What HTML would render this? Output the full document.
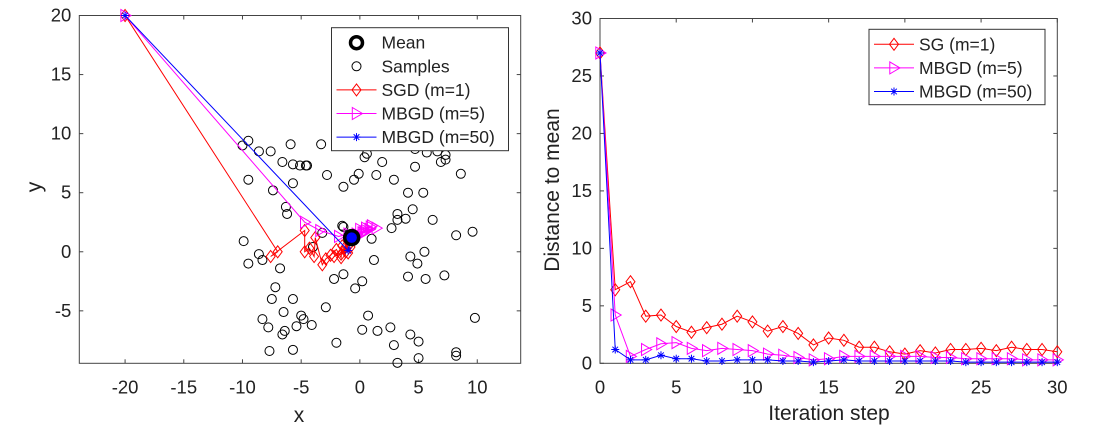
<!DOCTYPE html>
<html><head><meta charset="utf-8"><style>
body{margin:0;background:#fff;width:1096px;height:437px;overflow:hidden}
svg{font-family:"Liberation Sans",sans-serif}
</style></head><body>
<svg id="fig" width="1096" height="437" xmlns="http://www.w3.org/2000/svg"></svg>
<script>
// ---------- Left chart data ----------
const samplesX=[-10.0,-9.5,-8.6,-7.6,-5.9,-3.3,-6.6,-5.7,-5.1,-4.6,-4.5,-2.8,-9.5,-5.7,-7.4,-6.3,-6.2,-1.4,-0.1,-0.5,0.4,0.6,1.4,1.9,2.9,4.7,5.7,6.6,7.3,7.3,6.9,4.7,8.6,4.1,5.4,3.2,3.2,3.9,4.5,6.2,2.7,8.2,9.6,1.0,-1.5,-1.4,-3.2,-9.9,-8.6,-8.3,-9.5,-6.8,-4.0,1.2,4.3,5.5,4.9,-1.4,-2.2,0.2,-0.4,4.1,5.6,7.2,-7.2,-7.5,-5.7,-2.9,-6.5,-5.0,-4.8,-4.1,-8.3,-7.8,-5.4,-6.4,-6.6,0.7,0.2,1.5,2.6,4.3,5.0,2.9,-2.0,-7.7,-5.7,3.2,5.0,8.2,8.2,9.8];
const samplesY=[9.0,9.4,8.5,8.5,9.1,9.1,7.6,7.4,7.3,7.3,7.3,6.5,6.1,5.8,5.2,3.8,3.2,5.5,6.6,6.1,8.0,8.3,6.5,7.6,6.1,8.7,8.4,8.5,8.2,7.8,7.6,7.2,6.6,5.0,5.0,3.2,2.7,2.8,3.6,2.7,2.0,1.4,1.7,1.1,2.2,2.1,1.6,0.9,-0.2,-0.7,-1.0,-1.4,0.4,-0.7,-0.4,0.0,-1.0,-1.9,-2.3,-2.5,-3.1,-2.1,-2.3,-2.0,-3.0,-4.0,-4.0,-4.7,-5.1,-5.4,-5.7,-6.2,-5.7,-6.4,-6.3,-6.7,-7.0,-5.4,-6.6,-6.7,-6.4,-7.0,-7.6,-7.9,-7.7,-8.4,-8.3,-9.4,-9.0,-8.5,-8.8,-5.6];
const meanX=-0.7, meanY=1.2;
const sgdX=[-20,-7.0,-7.6,-4.7,-4.7,-4.3,-3.9,-3.8,-3.2,-2.9,-2.5,-2.0,-1.6,-1.5,-1.0,-1.3,-0.9,-1.6,-2.2,-1.2,-0.8];
const sgdY=[20,0.0,-0.4,1.8,0.0,0.3,-0.4,1.2,-1.1,-0.6,-0.3,0.2,-0.5,0.5,-0.1,0.3,0.6,-0.2,-0.4,0.0,0.4];
const mb5X=[-20,-4.7,-3.4,-1.8,-1.0,0.0,0.5,1.0,0.3,1.4,0.5,-0.2,0.8,-0.5,0.2,0.9,-0.3,0.4];
const mb5Y=[20,2.5,1.8,1.3,1.5,1.9,2.0,2.2,1.6,2.0,1.8,1.4,1.9,1.3,1.6,2.1,1.5,1.7];
const mb50X=[-20,-1.0,-0.7,-0.6,-0.8,-0.6,-0.7];
const mb50Y=[20,0.1,1.2,1.3,1.1,1.2,1.3];
const leftXTicks=[-20,-15,-10,-5,0,5,10];
const leftYTicks=[-5,0,5,10,15,20];
// ---------- Right chart data ----------
const steps=[0,1,2,3,4,5,6,7,8,9,10,11,12,13,14,15,16,17,18,19,20,21,22,23,24,25,26,27,28,29,30];
const distSG=[27,6.4,7.1,4.1,4.2,3.2,2.7,3.1,3.4,4.1,3.6,2.8,3.2,2.6,1.6,2.2,2.0,1.4,1.4,1.0,0.8,1.1,0.9,1.2,1.2,1.3,1.1,1.4,1.2,1.2,1.0];
const distMB5=[27,4.2,0.6,1.2,1.7,1.8,1.3,1.1,1.3,1.2,1.1,0.8,0.7,0.5,0.3,0.4,0.6,0.6,0.6,0.6,0.6,0.6,0.5,0.5,0.4,0.4,0.4,0.4,0.3,0.3,0.3];
const distMB50=[27,1.2,0.3,0.3,0.7,0.4,0.4,0.2,0.2,0.3,0.3,0.3,0.2,0.2,0.1,0.2,0.3,0.2,0.2,0.2,0.2,0.2,0.2,0.2,0.1,0.1,0.1,0.1,0.1,0.1,0.1];
const rightXTicks=[0,5,10,15,20,25,30];
const rightYTicks=[0,5,10,15,20,25,30];

const NS='http://www.w3.org/2000/svg';
const svg=document.getElementById('fig');
function mk(tag,attrs,parent){const e=document.createElementNS(NS,tag);for(const k in attrs)e.setAttribute(k,attrs[k]);(parent||svg).appendChild(e);return e;}

const L={x0:79.3,x1:520.7,y0:15.5,y1:363.3,xmin:-23.9,xmax:13.7,ymin:-9.44,ymax:20};
const R={x0:600,x1:1057.3,y0:18.5,y1:363.3,xmin:0,xmax:30,ymin:0,ymax:30};
function sx(A,v){return A.x0+(v-A.xmin)/(A.xmax-A.xmin)*(A.x1-A.x0);}
function sy(A,v){return A.y1-(v-A.ymin)/(A.ymax-A.ymin)*(A.y1-A.y0);}

function axes(A,xt,yt,name){
  const g=mk('g',{});
  
  
  const fr=mk('rect',{x:A.x0,y:A.y0,width:A.x1-A.x0,height:A.y1-A.y0,fill:'none',stroke:'#444','stroke-width':1},g);
  
  
  xt.forEach(t=>{const x=sx(A,t);
    mk('line',{x1:x,x2:x,y1:A.y1,y2:A.y1-4,stroke:'#444'},g);
    mk('line',{x1:x,x2:x,y1:A.y0,y2:A.y0+4,stroke:'#444'},g);
    const tx=mk('text',{x:x,y:A.y1+30,'text-anchor':'middle','font-size':18.5,fill:'#222'},g);tx.textContent=t;
    
    
  });
  yt.forEach(t=>{const y=sy(A,t);
    mk('line',{x1:A.x0,x2:A.x0+4,y1:y,y2:y,stroke:'#444'},g);
    mk('line',{x1:A.x1,x2:A.x1-4,y1:y,y2:y,stroke:'#444'},g);
    const tx=mk('text',{x:A.x0-8,y:y+6,'text-anchor':'end','font-size':18.5,fill:'#222'},g);tx.textContent=t;
    
    
  });
}
function diamond(g,x,y,c,s){mk('path',{d:`M${x} ${y-s}L${x+s*0.75} ${y}L${x} ${y+s}L${x-s*0.75} ${y}Z`,fill:'none',stroke:c,'stroke-width':1},g);}
function tri(g,x,y,c,s){mk('path',{d:`M${x+s} ${y}L${x-s*0.7} ${y-s}L${x-s*0.7} ${y+s}Z`,fill:'none',stroke:c,'stroke-width':1},g);}
function star(g,x,y,c,s){for(let a=0;a<4;a++){const t=a*Math.PI/4;mk('line',{x1:x-s*Math.cos(t),y1:y-s*Math.sin(t),x2:x+s*Math.cos(t),y2:y+s*Math.sin(t),stroke:c,'stroke-width':1},g);}}
function series(A,xs,ys,c,marker,ms,name){
  const g=mk('g',{});
  
  
  const pts=xs.map((v,i)=>sx(A,v)+','+sy(A,ys[i])).join(' ');
  mk('polyline',{points:pts,fill:'none',stroke:c,'stroke-width':1},g);
  xs.forEach((v,i)=>marker(g,sx(A,v),sy(A,ys[i]),c,ms));
}

axes(L,leftXTicks,leftYTicks,'left');
const sg=mk('g',{});


samplesX.forEach((v,i)=>{mk('circle',{cx:sx(L,v),cy:sy(L,samplesY[i]),r:4.5,fill:'none',stroke:'#000','stroke-width':1},sg);});
series(L,sgdX,sgdY,'#f00',diamond,6,'sgd-path');
series(L,mb5X,mb5Y,'#f0f',tri,6,'mbgd5-path');
series(L,mb50X,mb50Y,'#00f',star,4,'mbgd50-path');
const mc=mk('circle',{cx:sx(L,meanX),cy:sy(L,meanY),r:7,fill:'#00f',stroke:'#000','stroke-width':3.5});



function label(x,y,txt,name,rot){const t=mk('text',{x:x,y:y,'text-anchor':'middle','font-size':21,fill:'#222'});if(rot)t.setAttribute('transform',`rotate(-90 ${x} ${y})`);t.textContent=txt;
  
  }
label(299,422,'x','left-x-axis-title');
label(41,187,'y','left-y-axis-title',true);
label(829,420,'Iteration step','right-x-axis-title');
label(559,190,'Distance to mean','right-y-axis-title',true);

function legend(x,y,w,h,entries,name){
  const g=mk('g',{});
  
  
  mk('rect',{x:x,y:y,width:w,height:h,fill:'#fff',stroke:'#333','stroke-width':1},g);
  entries.forEach((e,i)=>{const cy=y+15+i*23.6;const lx=x+5,mx=x+25,rx=x+45;
    if(e.line)mk('line',{x1:lx,x2:rx,y1:cy,y2:cy,stroke:e.c},g);
    e.m(g,mx,cy,e.c);
    const t=mk('text',{x:x+50,y:cy+6,'font-size':17.5,fill:'#222'},g);t.textContent=e.t;
    
    
  });
}
legend(331.5,27.7,177,123,[
 {t:'Mean',c:'#000',m:(g,x,y)=>mk('circle',{cx:x,cy:y,r:6,fill:'none',stroke:'#000','stroke-width':3.5},g)},
 {t:'Samples',c:'#000',m:(g,x,y)=>mk('circle',{cx:x,cy:y,r:4.5,fill:'none',stroke:'#000'},g)},
 {t:'SGD (m=1)',c:'#f00',line:1,m:(g,x,y,c)=>diamond(g,x,y,c,6)},
 {t:'MBGD (m=5)',c:'#f0f',line:1,m:(g,x,y,c)=>tri(g,x,y,c,6)},
 {t:'MBGD (m=50)',c:'#00f',line:1,m:(g,x,y,c)=>star(g,x,y,c,4)}
],'left-legend');

axes(R,rightXTicks,rightYTicks,'right');
series(R,steps,distSG,'#f00',diamond,6,'sg-distance-line');
series(R,steps,distMB5,'#f0f',tri,6,'mbgd5-distance-line');
series(R,steps,distMB50,'#00f',star,4,'mbgd50-distance-line');
legend(869,29.3,176,75.4,[
 {t:'SG (m=1)',c:'#f00',line:1,m:(g,x,y,c)=>diamond(g,x,y,c,6)},
 {t:'MBGD (m=5)',c:'#f0f',line:1,m:(g,x,y,c)=>tri(g,x,y,c,6)},
 {t:'MBGD (m=50)',c:'#00f',line:1,m:(g,x,y,c)=>star(g,x,y,c,4)}
],'right-legend');
</script>
</body></html>
